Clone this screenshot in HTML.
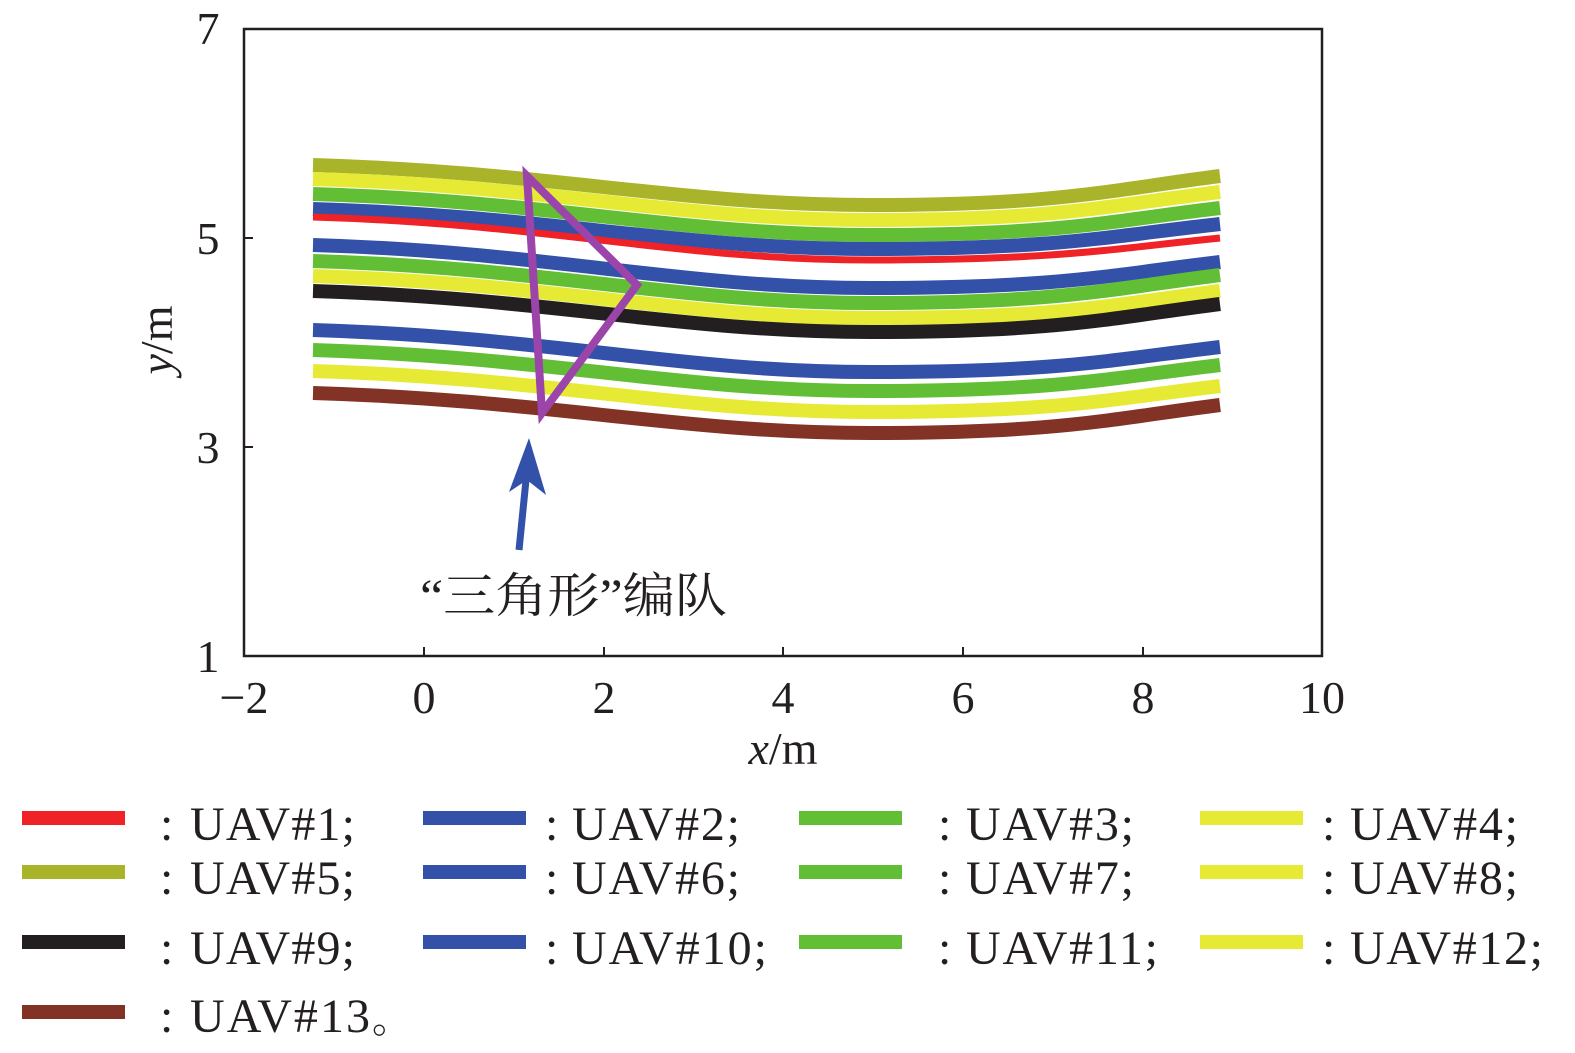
<!DOCTYPE html>
<html><head><meta charset="utf-8"><style>
body{margin:0;background:#fff}
svg{display:block}
text{font-family:"Liberation Serif","Noto Serif CJK SC",serif;fill:#231f20}
</style></head><body>
<svg width="1575" height="1053" viewBox="0 0 1575 1053">
<g fill="none" stroke-linecap="butt">
<path d="M313,165 C550,172 680,205 870,205 S1110,190 1220,176" stroke="#a9b42a" stroke-width="14"/>
<path d="M313,179 C550,186 680,220 870,220 S1110,205 1220,192" stroke="#e6ea35" stroke-width="14"/>
<path d="M313,194 C550,201 680,235 870,235 S1110,221 1220,208" stroke="#62bf35" stroke-width="14"/>
<path d="M313,209 C550,216 680,249 870,249 S1110,236 1220,224" stroke="#3351a8" stroke-width="14"/>
<path d="M313,217 C550,224 680,260 870,260 S1110,249 1220,238" stroke="#ee2227" stroke-width="7"/>
<path d="M313,245 C550,252 680,288 870,288 S1110,275 1220,262" stroke="#3351a8" stroke-width="14"/>
<path d="M313,261 C550,268 680,303 870,303 S1110,289 1220,275" stroke="#62bf35" stroke-width="14"/>
<path d="M313,276 C550,283 680,318 870,318 S1110,305 1220,291" stroke="#e6ea35" stroke-width="14"/>
<path d="M313,291 C550,298 680,332 870,332 S1110,318 1220,304" stroke="#231f20" stroke-width="14"/>
<path d="M313,330 C550,337 680,372 870,372 S1110,360 1220,347" stroke="#3351a8" stroke-width="14"/>
<path d="M313,350 C550,357 680,391 870,391 S1110,378 1220,365" stroke="#62bf35" stroke-width="14"/>
<path d="M313,371 C550,378 680,412 870,412 S1110,399 1220,386" stroke="#e6ea35" stroke-width="14"/>
<path d="M313,393 C550,400 680,433 870,433 S1110,419 1220,405" stroke="#833226" stroke-width="14"/>
<polygon points="527,176 637,285 542,413" stroke="#9b44aa" stroke-width="8" stroke-linejoin="miter"/>
</g>
<line x1="519" y1="550" x2="527" y2="470" stroke="#3351a8" stroke-width="7"/>
<polygon points="529,438 546,495 527,480 509,492" fill="#3351a8"/>
<text x="420" y="612" font-size="48" textLength="307" lengthAdjust="spacingAndGlyphs">“三角形”编队</text>
<rect x="244" y="29" width="1078" height="627" fill="none" stroke="#231f20" stroke-width="2.5"/>
<g stroke="#231f20" stroke-width="2">
<line x1="424" y1="656" x2="424" y2="647"/><line x1="604" y1="656" x2="604" y2="647"/>
<line x1="783" y1="656" x2="783" y2="647"/><line x1="963" y1="656" x2="963" y2="647"/>
<line x1="1143" y1="656" x2="1143" y2="647"/>
<line x1="244" y1="238" x2="253" y2="238"/><line x1="244" y1="447" x2="253" y2="447"/>
<line x1="244" y1="29" x2="253" y2="29"/>
</g>
<g font-size="46" text-anchor="middle">
<text x="208" y="44">7</text><text x="208" y="254">5</text><text x="208" y="463">3</text><text x="208" y="672">1</text>
<text x="244" y="713">−2</text><text x="424" y="713">0</text><text x="604" y="713">2</text><text x="783" y="713">4</text><text x="963" y="713">6</text><text x="1143" y="713">8</text><text x="1322" y="713">10</text>
<text x="783" y="764"><tspan font-style="italic">x</tspan>/m</text>
<text transform="translate(172,340) rotate(-90)"><tspan font-style="italic">y</tspan>/m</text>
</g>
<g>
<rect x="22" y="811" width="103" height="14" fill="#ee2227"/>
<rect x="423" y="811" width="103" height="14" fill="#3351a8"/>
<rect x="799" y="811" width="103" height="14" fill="#62bf35"/>
<rect x="1200" y="811" width="103" height="14" fill="#e6ea35"/>
<rect x="22" y="865" width="103" height="14" fill="#a9b42a"/>
<rect x="423" y="865" width="103" height="14" fill="#3351a8"/>
<rect x="799" y="865" width="103" height="14" fill="#62bf35"/>
<rect x="1200" y="865" width="103" height="14" fill="#e6ea35"/>
<rect x="22" y="935" width="103" height="14" fill="#231f20"/>
<rect x="423" y="935" width="103" height="14" fill="#3351a8"/>
<rect x="799" y="935" width="103" height="14" fill="#62bf35"/>
<rect x="1200" y="935" width="103" height="14" fill="#e6ea35"/>
<rect x="22" y="1005" width="103" height="14" fill="#833226"/>
</g>
<g font-size="48">
<text x="160" y="840">: <tspan x="190" textLength="165">UAV#1;</tspan></text>
<text x="545" y="840">: <tspan x="572" textLength="168">UAV#2;</tspan></text>
<text x="938" y="840">: <tspan x="966" textLength="168">UAV#3;</tspan></text>
<text x="1322" y="840">: <tspan x="1350" textLength="168">UAV#4;</tspan></text>
<text x="160" y="894">: <tspan x="190" textLength="165">UAV#5;</tspan></text>
<text x="545" y="894">: <tspan x="572" textLength="168">UAV#6;</tspan></text>
<text x="938" y="894">: <tspan x="966" textLength="168">UAV#7;</tspan></text>
<text x="1322" y="894">: <tspan x="1350" textLength="168">UAV#8;</tspan></text>
<text x="160" y="964">: <tspan x="190" textLength="165">UAV#9;</tspan></text>
<text x="545" y="964">: <tspan x="572" textLength="195">UAV#10;</tspan></text>
<text x="938" y="964">: <tspan x="966" textLength="192">UAV#11;</tspan></text>
<text x="1322" y="964">: <tspan x="1350" textLength="193">UAV#12;</tspan></text>
<text x="160" y="1032">: <tspan x="190" textLength="180">UAV#13</tspan><tspan font-size="40">。</tspan></text>
</g>
</svg>
</body></html>
